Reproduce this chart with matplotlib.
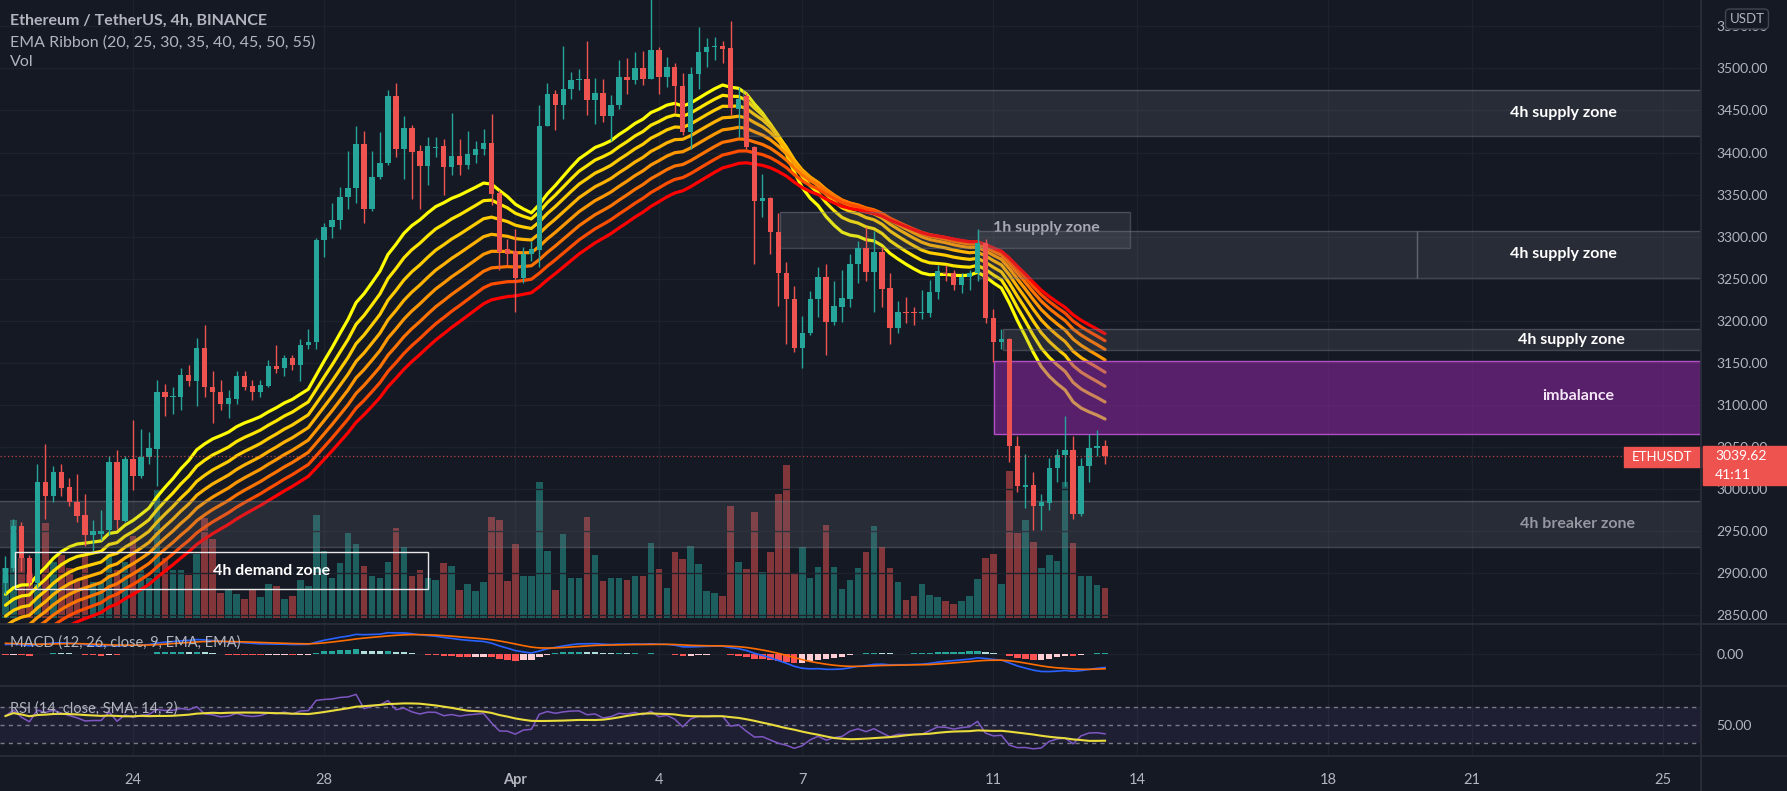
import numpy as np
import pandas as pd
import matplotlib
matplotlib.use("Agg")
import matplotlib.pyplot as plt
from matplotlib.patches import Rectangle
from matplotlib.lines import Line2D
from matplotlib.transforms import blended_transform_factory as blend

plt.rcParams['font.family'] = ['Lato', 'DejaVu Sans']

W, H = 1787, 791
BG = '#151924'
TXT = '#b2b5be'
GRID = '#1e222d'
UP, DOWN = '#26a69a', '#ef5350'

# ETHUSDT 4h candles, first visible bar opens 2022-03-21 08:00
first_bar = pd.Timestamp('2022-03-21 08:00')
opens = [2889, 2906, 2956, 2918, 2889, 3008, 2992, 3020, 3003, 2985,
         2969, 2946, 2947, 2951, 3032, 2962, 3036, 3016, 3038, 3048,
         3116, 3110, 3110, 3136, 3128, 3168, 3121, 3116, 3101, 3107,
         3135, 3122, 3116, 3123, 3146, 3144, 3156, 3147, 3171, 3175,
         3296, 3312, 3320, 3347, 3358, 3410, 3333, 3371, 3388, 3467,
         3404, 3429, 3402, 3384, 3405, 3408, 3383, 3396, 3385, 3397,
         3404, 3411, 3352, 3285, 3283, 3251, 3279, 3284, 3432, 3470,
         3456, 3475, 3486, 3488, 3462, 3471, 3444, 3457, 3490, 3486,
         3501, 3488, 3522, 3490, 3502, 3479, 3424, 3493, 3520, 3525,
         3527, 3524, 3452, 3467, 3407, 3343, 3346, 3305, 3257, 3226,
         3168, 3185, 3226, 3252, 3199, 3217, 3226, 3268, 3287, 3258,
         3282, 3239, 3192, 3211, 3211, 3209, 3209, 3234, 3257, 3257,
         3243, 3252, 3257, 3292, 3203, 3175, 3179, 3051, 3003, 3005,
         2980, 2984, 3025, 3041, 3046, 2971, 3027, 3049, 3051]
highs = [2920, 2965, 2961, 2922, 3030, 3054, 3027, 3030, 3013, 3018,
         2994, 2963, 2975, 3039, 3047, 3039, 3082, 3071, 3068, 3130,
         3125, 3121, 3144, 3147, 3180, 3195, 3140, 3130, 3118, 3140,
         3140, 3130, 3130, 3154, 3171, 3159, 3159, 3178, 3190, 3299,
         3316, 3340, 3359, 3402, 3432, 3426, 3402, 3425, 3474, 3483,
         3444, 3433, 3409, 3419, 3419, 3416, 3447, 3416, 3426, 3414,
         3428, 3446, 3355, 3297, 3309, 3288, 3295, 3456, 3483, 3474,
         3527, 3496, 3499, 3533, 3489, 3488, 3468, 3510, 3512, 3520,
         3521, 3585, 3526, 3513, 3507, 3494, 3502, 3549, 3536, 3537,
         3533, 3556, 3478, 3471, 3408, 3375, 3347, 3328, 3270, 3241,
         3206, 3235, 3264, 3268, 3247, 3260, 3280, 3295, 3311, 3307,
         3288, 3257, 3223, 3228, 3217, 3237, 3249, 3266, 3266, 3260,
         3257, 3260, 3309, 3297, 3214, 3190, 3180, 3063, 3042, 3020,
         2994, 3037, 3048, 3087, 3063, 3037, 3066, 3070, 3058]
lows = [2875, 2903, 2903, 2884, 2884, 2965, 2985, 2992, 2980, 2961,
        2932, 2927, 2939, 2946, 2953, 2961, 2999, 3013, 3030, 3004,
        3087, 3089, 3094, 3123, 3099, 3109, 3078, 3094, 3085, 3101,
        3118, 3106, 3109, 3121, 3138, 3135, 3142, 3128, 3166, 3166,
        3276, 3299, 3309, 3333, 3340, 3316, 3331, 3369, 3385, 3395,
        3369, 3345, 3333, 3362, 3395, 3350, 3373, 3373, 3381, 3388,
        3397, 3338, 3261, 3266, 3211, 3245, 3271, 3264, 3431, 3427,
        3440, 3464, 3474, 3445, 3434, 3436, 3414, 3452, 3470, 3481,
        3480, 3487, 3469, 3478, 3447, 3421, 3404, 3476, 3502, 3510,
        3506, 3445, 3419, 3404, 3268, 3323, 3280, 3218, 3172, 3163,
        3144, 3183, 3204, 3159, 3195, 3199, 3216, 3245, 3247, 3211,
        3216, 3173, 3185, 3197, 3195, 3202, 3204, 3226, 3247, 3237,
        3233, 3237, 3247, 3197, 3151, 3166, 3032, 2996, 2977, 2951,
        2951, 2975, 3008, 3004, 2965, 2968, 3008, 3039, 3030]
closes = [2906, 2956, 2918, 2889, 3008, 2992, 3020, 3001, 2985, 2968,
          2946, 2950, 2950, 3032, 2963, 3036, 3016, 3038, 3049, 3116,
          3109, 3111, 3136, 3128, 3168, 3121, 3115, 3101, 3108, 3135,
          3121, 3116, 3124, 3146, 3143, 3156, 3147, 3171, 3175, 3296,
          3312, 3320, 3347, 3358, 3410, 3333, 3371, 3388, 3467, 3404,
          3429, 3401, 3384, 3408, 3407, 3383, 3396, 3385, 3398, 3404,
          3411, 3351, 3282, 3280, 3251, 3280, 3285, 3432, 3470, 3456,
          3475, 3486, 3488, 3462, 3471, 3444, 3457, 3490, 3486, 3501,
          3488, 3522, 3490, 3502, 3479, 3424, 3493, 3520, 3525, 3527,
          3523, 3453, 3464, 3407, 3343, 3346, 3305, 3257, 3226, 3168,
          3185, 3226, 3252, 3199, 3218, 3227, 3268, 3287, 3258, 3282,
          3238, 3192, 3210, 3209, 3209, 3210, 3234, 3259, 3256, 3243,
          3252, 3257, 3292, 3203, 3175, 3179, 3051, 3004, 3005, 2980,
          2985, 3025, 3041, 3046, 2970, 3027, 3049, 3051, 3039.62]
volumes = [62, 122, 75, 55, 42, 118, 70, 78, 62, 48,
           78, 45, 45, 80, 60, 70, 102, 60, 50, 161,
           75, 60, 60, 54, 80, 125, 98, 31, 35, 30,
           24, 35, 26, 42, 40, 24, 28, 48, 40, 128,
           84, 50, 68, 106, 92, 65, 52, 50, 70, 112,
           89, 52, 60, 50, 48, 68, 65, 35, 42, 34,
           45, 126, 122, 46, 92, 52, 52, 170, 84, 35,
           105, 50, 50, 126, 79, 46, 50, 50, 48, 52,
           52, 94, 61, 37, 82, 74, 90, 67, 34, 31,
           27, 140, 70, 61, 132, 57, 82, 155, 191, 56,
           88, 50, 64, 116, 64, 36, 48, 62, 82, 115,
           88, 62, 45, 22, 28, 42, 29, 26, 21, 18,
           21, 27, 49, 75, 80, 42, 184, 106, 122, 95,
           62, 78, 71, 170, 94, 52, 52, 41, 37]

day_dates = ['2022-03-24', '2022-03-28', '2022-04-01', '2022-04-04', '2022-04-07',
             '2022-04-11', '2022-04-14', '2022-04-18', '2022-04-21', '2022-04-25']
day_labels = ['24', '28', 'Apr', '4', '7', '11', '14', '18', '21', '25']

ribbon_len = [20, 25, 30, 35, 40, 45, 50, 55]
ribbon_start = [2875, 2862, 2849, 2837, 2826, 2815, 2803, 2792]   # read at first bar
ribbon_colors = ['#ffff00', '#ffe600', '#ffcc00', '#ffb300', '#ff9800',
                 '#ff7300', '#ff4d00', '#ff0000']

macd_start = (2900, 2860, 45)     # fast ema, slow ema, signal at first bar
rsi_start = (12.0, 8.0)           # avg gain, avg loss at first bar

# zones: price bounds
supply_top = (3420, 3474)
supply_1h = (3287, 3329)
supply_mid = (3251, 3307)
supply_low = (3165, 3190)
imbalance = (3065, 3152)
breaker = (2931, 2986)
demand = (2881, 2925)

o = np.array(opens, float)
h = np.array(highs, float)
l = np.array(lows, float)
c = np.array(closes, float)
v = np.array(volumes, float)
n = len(c)
x = np.arange(n)


def ema(vals, length, seed):
    a = 2.0 / (length + 1)
    out = [seed]
    for val in vals[1:]:
        out.append(out[-1] + a * (val - out[-1]))
    return np.array(out)


# indicators
fast = ema(c, 12, macd_start[0])
slow = ema(c, 26, macd_start[1])
macd = fast - slow
sig = ema(macd, 9, macd_start[2])
hist = macd - sig

ag, al = rsi_start
rsi = [100 - 100 / (1 + ag / al)]
for i in range(1, n):
    d = c[i] - c[i - 1]
    ag = (ag * 13 + max(d, 0)) / 14
    al = (al * 13 + max(-d, 0)) / 14
    rsi.append(100 - 100 / (1 + ag / al))
rsi = np.array(rsi)
rsi_ma = pd.Series(rsi).rolling(14, min_periods=1).mean().values

tick_pos = [(pd.Timestamp(d) - first_bar) / pd.Timedelta('4h') for d in day_dates]

# ---- figure ----
fig = plt.figure(figsize=(W / 100, H / 100), dpi=100, facecolor=BG)


def pane(top, bottom):
    return [0, 1 - bottom / H, 1701 / W, (bottom - top) / H]


vax = fig.add_axes(pane(0, 624))
ax = fig.add_axes(pane(0, 624), sharex=vax)
mac = fig.add_axes(pane(624, 686), sharex=vax)
rax = fig.add_axes(pane(686, 756), sharex=vax)
ax.patch.set_visible(False)
for a in (vax, ax, mac, rax):
    a.set_facecolor(BG)
    for s in a.spines.values():
        s.set_visible(False)
    a.tick_params(axis='x', length=0, labelbottom=False)
vax.patch.set_facecolor(BG)

XMIN, XMAX = -0.69, 212.8
YMIN, YMAX = 2839.7, 3581.3
vax.set_xlim(XMIN, XMAX)
vax.set_xticks(tick_pos)
ax.set_ylim(YMIN, YMAX)
upp = (YMAX - YMIN) / 624.0  # price units per pixel

# volume (bottom layer)
vol_col = [UP if cc >= oo else DOWN for oo, cc in zip(o, c)]
vax.bar(x, v, width=0.82, color=vol_col, alpha=0.5, zorder=2)
vax.set_ylim(-7.5, 771)
vax.set_yticks([])
vax.grid(True, axis='x', color=GRID, lw=1)
vax.set_axisbelow(True)

# grid and price scale
yt = np.arange(2850, 3551, 50)
ax.set_yticks(yt)
ax.set_yticklabels([f'{t:.2f}' for t in yt])
ax.yaxis.tick_right()
ax.tick_params(axis='y', length=0, pad=11, labelsize=10, labelcolor=TXT)
ax.grid(True, axis='y', color=GRID, lw=1)
ax.set_axisbelow(True)

# EMA ribbon
for ln, s0, col in zip(ribbon_len, ribbon_start, ribbon_colors):
    ax.plot(x, ema(c, ln, s0), color=col, lw=2.3, zorder=3, solid_capstyle='round')

# zones
zfill = dict(facecolor='#787b86', alpha=0.2, edgecolor='none', zorder=6)
zedge = dict(facecolor='none', edgecolor='#787b86', alpha=0.45, lw=1, zorder=6)


def zone(x0, x1, lo, hi):
    ax.add_patch(Rectangle((x0, lo), x1 - x0, hi - lo, **zfill))
    ax.add_patch(Rectangle((x0, lo), x1 - x0, hi - lo, **zedge))


ax.text(130.7, 3310, '1h supply zone', color=TXT, fontsize=11.5, fontweight='bold',
        ha='center', va='center', zorder=5.5)
zone(92.6, XMAX + 5, *supply_top)
zone(97.2, 141.1, *supply_1h)
zone(122.1, 177.2, *supply_mid)
zone(177.2, XMAX + 5, *supply_mid)
zone(125.2, XMAX + 5, *supply_low)
zone(XMIN - 5, XMAX + 5, *breaker)
ax.add_patch(Rectangle((124.1, imbalance[0]), XMAX + 5 - 124.1, imbalance[1] - imbalance[0],
                       facecolor='#9c27b0', alpha=0.5, edgecolor='none', zorder=6))
ax.add_patch(Rectangle((124.1, imbalance[0]), XMAX + 5 - 124.1, imbalance[1] - imbalance[0],
                       facecolor='none', edgecolor='#b14fc4', lw=1, zorder=6))
ax.add_patch(Rectangle((1.2, demand[0]), 53.0 - 1.2, demand[1] - demand[0],
                       facecolor='none', edgecolor='#e8e8e8', lw=1, zorder=9))

lab = dict(fontsize=11.5, fontweight='bold', ha='center', va='center', zorder=10)
ax.text(195.5, sum(supply_top) / 2, '4h supply zone', color='white', **lab)
ax.text(195.5, sum(supply_mid) / 2, '4h supply zone', color='white', **lab)
ax.text(196.5, sum(supply_low) / 2, '4h supply zone', color='white', **lab)
ax.text(197.4, 3111, 'imbalance', color='#f3e5f5', **lab)
ax.text(197.3, sum(breaker) / 2, '4h breaker zone', color='#9598a1', **lab)
ax.text(33.4, sum(demand) / 2, '4h demand zone', color='white', **lab)

# candles
col = np.where(c >= o, UP, DOWN)
ax.vlines(x, l, h, colors=col, lw=1, zorder=7)
body = np.maximum(np.abs(c - o), 1.0)
ax.bar(x, body, bottom=np.minimum(o, c), width=0.68, color=col, zorder=8)

# last price line + labels
last = c[-1]
ax.axhline(last, color=DOWN, lw=0.9, ls=(0, (1, 2)), alpha=0.75, zorder=9)
tr = blend(ax.transAxes, ax.transData)
ax.add_patch(Rectangle((1703 / 1701, last - 29 * upp), 84 / 1701, 39 * upp, transform=tr,
                       color=DOWN, clip_on=False, zorder=11))
ax.text(1715 / 1701, last, f'{last:.2f}', transform=tr, color='white', fontsize=10,
        va='center', ha='left', zorder=12, clip_on=False)
ax.text(1715 / 1701, last - 19 * upp, '41:11', transform=tr, color='white', fontsize=10,
        va='center', ha='left', zorder=12, clip_on=False)
ax.add_patch(Rectangle((1624 / 1701, last - 11 * upp), 77 / 1701, 20 * upp, transform=tr,
                       color=DOWN, clip_on=False, zorder=11))
ax.text(1662 / 1701, last - upp, 'ETHUSDT', transform=tr, color='white', fontsize=9.5,
        va='center', ha='center', zorder=12, clip_on=False)

# MACD pane
hcol = []
for i, hv in enumerate(hist):
    prev = hist[i - 1] if i > 0 else hv
    if hv >= 0:
        hcol.append('#26a69a' if hv >= prev else '#b2dfdb')
    else:
        hcol.append('#ffcdd2' if hv > prev else '#ff5252')
mac.bar(x, hist, width=0.8, color=hcol, zorder=2)
mac.plot(x, macd, color='#2962ff', lw=1.2, zorder=3)
mac.plot(x, sig, color='#ff6d00', lw=1.2, zorder=4)
M = max(macd.max(), sig.max())
mac.set_ylim(-M * 32 / 21.3, M * 30 / 21.3)
mac.set_yticks([0])
mac.set_yticklabels(['0.00'])
mac.yaxis.tick_right()
mac.tick_params(axis='y', length=0, pad=11, labelsize=10, labelcolor=TXT)
mac.grid(True, color=GRID, lw=1)
mac.set_axisbelow(True)

# RSI pane
rax.axhspan(30, 70, color='#7e57c2', alpha=0.1, lw=0, zorder=1)
for lvl in (30, 50, 70):
    rax.axhline(lvl, color='#787b86', lw=1, ls=(0, (3, 3)), zorder=2)
rax.plot(x, rsi, color='#7e57c2', lw=1.1, zorder=3)
rax.plot(x, rsi_ma, color='#e9dc3c', lw=1.5, zorder=4)
rax.set_ylim(15.6, 93.3)
rax.set_yticks([50])
rax.set_yticklabels(['50.00'])
rax.yaxis.tick_right()
rax.tick_params(axis='y', length=0, pad=11, labelsize=10, labelcolor=TXT)
rax.grid(True, axis='x', color=GRID, lw=1)
rax.set_axisbelow(True)

# time axis
rax.set_xticklabels(day_labels)
rax.tick_params(axis='x', labelbottom=True, length=0, pad=12, labelsize=10.5, labelcolor=TXT)
for t in rax.get_xticklabels():
    if t.get_text() == 'Apr':
        t.set_fontweight('bold')

# pane separators
for yy in (624, 686, 756):
    fig.add_artist(Line2D([0, 1], [1 - yy / H] * 2, transform=fig.transFigure,
                          color='#2a2e39', lw=1.3))
fig.add_artist(Line2D([1701 / W] * 2, [0, 1], transform=fig.transFigure,
                      color='#2a2e39', lw=1.3))

# legends / titles
fig.text(10 / W, 1 - 21 / H, 'Ethereum / TetherUS, 4h, BINANCE', fontsize=11.5,
         fontweight='bold', color=TXT, va='center')
fig.text(10 / W, 1 - 43 / H, 'EMA Ribbon (20, 25, 30, 35, 40, 45, 50, 55)', fontsize=11.5,
         color=TXT, va='center')
fig.text(10 / W, 1 - 62 / H, 'Vol', fontsize=11.5, color=TXT, va='center')
fig.text(10 / W, 1 - 643 / H, 'MACD (12, 26, close, 9, EMA, EMA)', fontsize=10.5,
         color=TXT, va='center')
fig.text(10 / W, 1 - 709 / H, 'RSI (14, close, SMA, 14, 2)', fontsize=10.5,
         color=TXT, va='center')
fig.text(1747 / W, 1 - 19 / H, 'USDT', fontsize=9.5, color=TXT, ha='center', va='center',
         bbox=dict(boxstyle='round,pad=0.3', fc=BG, ec='#434651', lw=1))

fig.savefig('out.png', dpi=100, facecolor=BG)
